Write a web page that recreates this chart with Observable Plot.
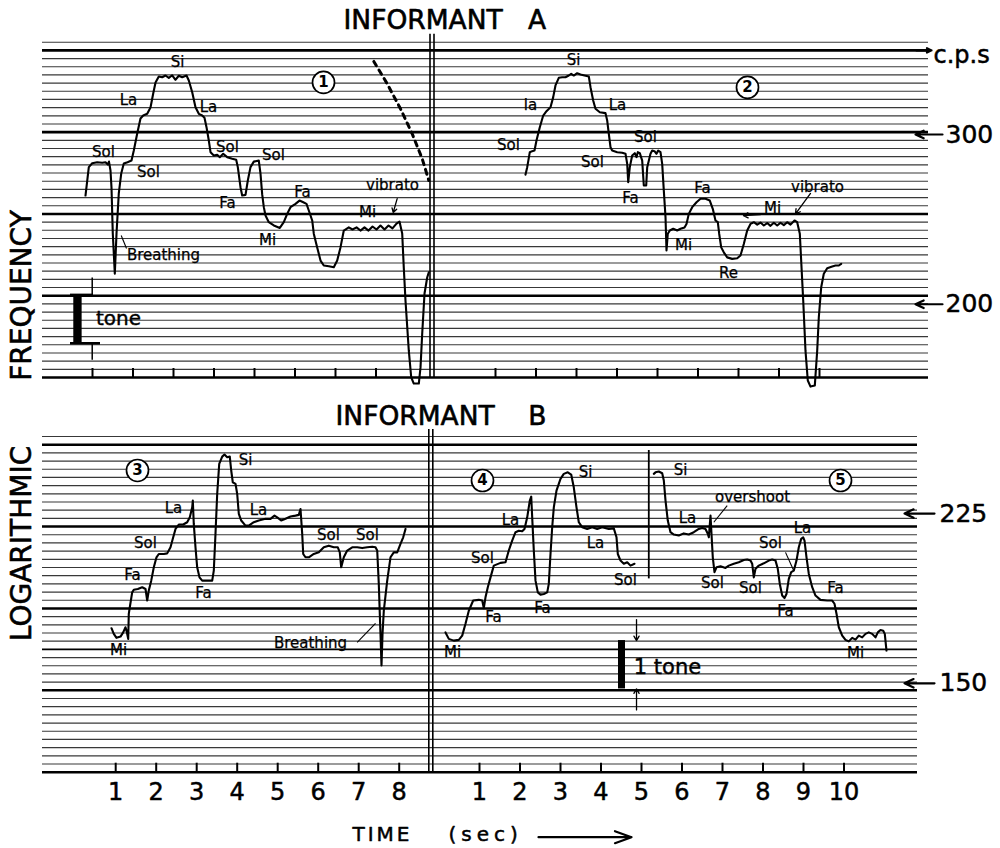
<!DOCTYPE html>
<html><head><meta charset="utf-8">
<script src="https://cdn.jsdelivr.net/npm/d3@7"></script>
<script src="https://cdn.jsdelivr.net/npm/@observablehq/plot@0.6"></script>
<style>
html,body{margin:0;padding:0;background:#fff;}
#chart{width:1000px;height:848px;overflow:hidden;}
#chart svg{display:block;}
</style></head><body><div id="chart"></div>
<script>
// ---------------- DATA ----------------
// pitch traces: [time (s, within its half), frequency (c.p.s)]
const traceA1 = [[0.827,259.3],[0.909,277.5],[0.993,280.1],[1.116,280.8],[1.240,280.4],[1.321,280.8],[1.378,279.2],[1.407,281.2],[1.444,275.3],[1.469,264.3],[1.501,236.8],[1.551,215.2],[1.593,236.8],[1.649,260.6],[1.709,273.3],[1.773,279.9],[1.864,280.8],[1.963,281.9],[2.020,288.7],[2.104,300.7],[2.185,311.7],[2.252,313.9],[2.351,315.2],[2.432,320.0],[2.499,330.9],[2.556,339.7],[2.637,344.6],[2.721,344.0],[2.802,345.4],[2.884,343.5],[2.968,345.6],[3.049,341.9],[3.131,345.2],[3.215,344.0],[3.321,345.4],[3.378,341.3],[3.462,331.9],[3.543,320.2],[3.625,315.2],[3.709,313.9],[3.765,312.2],[3.815,305.3],[3.872,295.7],[3.914,287.6],[3.995,285.3],[4.079,285.8],[4.143,284.2],[4.227,286.5],[4.326,284.2],[4.449,283.1],[4.548,282.4],[4.588,277.5],[4.654,264.5],[4.696,259.3],[4.778,259.7],[4.835,268.8],[4.901,277.5],[4.983,281.2],[5.106,281.9],[5.148,273.2],[5.190,260.0],[5.230,252.2],[5.272,247.2],[5.353,243.3],[5.477,241.4],[5.625,240.0],[5.723,243.3],[5.807,248.2],[5.889,252.2],[6.012,254.2],[6.111,256.2],[6.217,255.0],[6.284,254.2],[6.341,250.2],[6.425,244.3],[6.464,236.7],[6.548,229.1],[6.630,222.0],[6.711,219.4],[6.835,219.0],[6.958,218.5],[7.042,222.0],[7.123,229.1],[7.205,238.5],[7.328,240.3],[7.420,239.1],[7.519,240.3],[7.617,238.5],[7.716,240.3],[7.815,238.5],[7.914,240.8],[8.012,239.1],[8.111,241.4],[8.210,239.1],[8.309,241.4],[8.407,239.7],[8.506,242.5],[8.580,243.7],[8.647,236.8],[8.686,218.3],[8.728,201.8],[8.810,179.0],[8.869,168.0],[8.933,165.5],[9.057,165.5],[9.099,172.0],[9.141,186.5],[9.198,205.2],[9.264,213.2],[9.304,215.9]];
const traceA2 = [[1.741,272.6],[1.783,277.5],[1.847,287.6],[1.906,288.3],[1.963,288.7],[2.012,295.7],[2.094,305.3],[2.178,313.9],[2.259,317.2],[2.358,320.2],[2.425,328.0],[2.481,337.3],[2.563,343.5],[2.647,344.0],[2.728,344.0],[2.810,345.4],[2.869,346.8],[2.933,345.4],[3.017,347.3],[3.099,346.3],[3.198,345.4],[3.304,344.6],[3.346,335.9],[3.412,325.4],[3.469,319.0],[3.575,316.4],[3.716,315.7],[3.758,310.2],[3.798,300.5],[3.840,291.0],[3.881,288.7],[4.005,287.6],[4.128,287.2],[4.210,286.5],[4.252,279.7],[4.277,267.7],[4.316,277.5],[4.375,285.3],[4.440,286.9],[4.481,284.2],[4.514,287.6],[4.563,286.9],[4.622,281.9],[4.662,265.6],[4.721,265.6],[4.746,277.5],[4.827,286.5],[4.869,288.7],[4.926,288.3],[4.975,286.5],[5.017,288.7],[5.074,287.6],[5.116,279.7],[5.156,262.4],[5.198,246.2],[5.222,227.4],[5.254,236.7],[5.304,238.5],[5.388,239.5],[5.486,238.5],[5.568,239.5],[5.667,240.3],[5.716,242.3],[5.773,248.2],[5.857,252.2],[5.963,255.2],[6.062,257.3],[6.185,257.3],[6.291,256.2],[6.365,251.2],[6.432,244.3],[6.489,243.3],[6.523,236.7],[6.573,229.1],[6.637,226.4],[6.721,223.7],[6.844,222.9],[6.968,223.2],[7.049,224.7],[7.131,231.0],[7.215,238.5],[7.296,242.3],[7.378,243.3],[7.462,241.9],[7.543,243.1],[7.625,241.4],[7.709,242.8],[7.790,241.2],[7.872,243.0],[7.956,241.4],[8.037,243.0],[8.119,241.6],[8.202,243.3],[8.284,241.9],[8.383,244.3],[8.449,243.3],[8.514,236.7],[8.556,218.5],[8.598,201.8],[8.654,179.0],[8.711,166.7],[8.778,164.3],[8.884,164.7],[8.943,179.0],[8.983,193.9],[9.042,208.3],[9.106,215.1],[9.190,218.0],[9.314,218.9],[9.395,219.4],[9.477,219.4],[9.536,220.3]];
const traceB3 = [[0.896,171.1],[0.953,168.8],[1.020,167.2],[1.119,167.7],[1.185,169.4],[1.242,171.5],[1.267,170.1],[1.309,166.8],[1.323,177.1],[1.348,179.9],[1.407,186.4],[1.447,187.6],[1.546,187.9],[1.654,188.7],[1.736,187.9],[1.778,182.8],[1.817,187.2],[1.877,191.7],[1.941,197.9],[2.007,202.7],[2.064,204.3],[2.188,204.3],[2.272,204.6],[2.353,207.6],[2.420,212.6],[2.477,216.9],[2.558,219.2],[2.667,219.2],[2.765,220.4],[2.830,223.0],[2.889,228.4],[2.904,232.1],[2.928,219.5],[2.970,207.6],[3.012,197.9],[3.069,193.2],[3.136,191.7],[3.259,191.7],[3.383,191.7],[3.422,196.3],[3.464,214.4],[3.506,235.8],[3.556,253.4],[3.630,257.8],[3.686,259.1],[3.753,257.4],[3.817,257.8],[3.852,249.4],[3.891,242.5],[3.958,241.6],[4.000,235.8],[4.040,224.8],[4.099,221.3],[4.205,218.6],[4.286,218.6],[4.410,220.4],[4.533,221.3],[4.699,222.2],[4.822,222.2],[4.921,223.9],[4.988,223.0],[5.086,221.3],[5.193,222.2],[5.316,223.4],[5.440,223.9],[5.521,224.3],[5.563,227.5],[5.605,214.4],[5.630,204.3],[5.686,202.7],[5.768,202.7],[5.891,204.3],[6.015,205.1],[6.138,207.6],[6.262,208.4],[6.385,207.6],[6.484,207.6],[6.533,205.1],[6.568,197.9],[6.632,202.7],[6.716,206.0],[6.840,207.6],[6.963,207.6],[7.086,207.2],[7.210,207.6],[7.333,207.9],[7.415,207.6],[7.457,206.0],[7.496,190.2],[7.538,168.8],[7.563,156.5],[7.588,168.8],[7.620,178.4],[7.704,191.7],[7.785,202.7],[7.867,205.1],[7.951,205.1],[8.032,209.3],[8.099,212.6],[8.156,216.9]];
const traceB4 = [[0.160,169.4],[0.242,166.8],[0.365,166.1],[0.489,166.4],[0.573,168.1],[0.654,172.9],[0.736,178.4],[0.844,182.8],[0.983,183.1],[1.067,182.8],[1.106,179.5],[1.148,184.2],[1.205,188.7],[1.272,193.2],[1.353,198.7],[1.519,200.0],[1.642,200.3],[1.723,206.0],[1.807,210.9],[1.889,215.2],[1.970,216.0],[2.054,215.7],[2.111,216.9],[2.178,223.0],[2.242,232.1],[2.277,234.3],[2.301,223.0],[2.341,206.0],[2.383,191.7],[2.440,186.4],[2.506,185.4],[2.588,185.7],[2.672,186.4],[2.711,190.2],[2.753,204.3],[2.795,217.8],[2.835,228.4],[2.901,237.7],[3.000,244.5],[3.081,247.4],[3.180,248.3],[3.264,247.0],[3.328,239.6],[3.395,228.4],[3.452,220.4],[3.536,217.8],[3.659,216.9],[3.783,217.8],[3.906,216.9],[4.030,217.8],[4.193,216.9],[4.316,217.2],[4.383,212.6],[4.415,204.3],[4.481,201.1],[4.563,199.6],[4.647,200.3],[4.728,198.7],[4.827,199.6]];
const traceB5 = [[5.304,247.4],[5.346,248.3],[5.427,248.8],[5.511,247.8],[5.551,243.5],[5.593,232.1],[5.649,221.3],[5.716,215.2],[5.798,214.0],[5.921,213.5],[6.044,214.6],[6.168,214.0],[6.291,215.2],[6.415,216.9],[6.499,217.4],[6.580,216.9],[6.637,214.4],[6.662,212.6],[6.704,223.9],[6.728,214.4],[6.760,202.7],[6.802,195.6],[6.852,197.9],[6.951,198.4],[7.074,197.6],[7.156,198.7],[7.279,199.6],[7.402,200.3],[7.526,201.4],[7.610,201.6],[7.691,201.1],[7.733,199.6],[7.773,193.2],[7.815,197.2],[7.896,198.7],[8.020,199.8],[8.143,201.1],[8.227,201.6],[8.309,201.1],[8.365,197.2],[8.415,190.2],[8.474,185.0],[8.531,183.9],[8.580,185.7],[8.637,192.5],[8.696,195.6],[8.760,196.3],[8.827,201.1],[8.884,207.6],[8.943,211.8],[8.993,212.6],[9.025,210.9],[9.074,202.7],[9.131,194.8],[9.215,188.7],[9.296,185.0],[9.420,183.1],[9.585,182.8],[9.709,182.8],[9.765,181.4],[9.815,177.1],[9.872,171.5],[9.956,168.1],[10.037,166.4],[10.119,165.8],[10.202,167.2],[10.284,166.5],[10.365,168.1],[10.449,167.4],[10.531,168.8],[10.612,169.4],[10.696,168.8],[10.778,167.4],[10.835,169.4],[10.901,170.4],[10.968,170.1],[11.007,168.8],[11.049,162.2]];
// dashed strobe arc (recording 1)
const arcA1 = [[7.946,357.2],[8.277,338.6],[8.605,319.0],[8.894,300.5],[9.141,283.1],[9.304,268.8]];
// separator stroke between recordings 4 and 5 (right half of B)
const sepB = [{t:5.180, lo:192.5, hi:261.6}];

// note labels: h = half (0 left, 1 right)
const labelsA = [
 {h:0,t:3.100,hz:356.3,text:"Si"},{h:0,t:1.889,hz:325.4,text:"La"},{h:0,t:3.864,hz:320.0,text:"La"},
 {h:0,t:1.272,hz:287.4,text:"Sol"},{h:0,t:2.383,hz:274.0,text:"Sol"},{h:0,t:4.333,hz:290.8,text:"Sol"},
 {h:0,t:5.469,hz:285.3,text:"Sol"},{h:0,t:4.333,hz:254.4,text:"Fa"},{h:0,t:6.185,hz:261.2,text:"Fa"},
 {h:0,t:5.321,hz:232.9,text:"Mi"},{h:0,t:7.790,hz:249.0,text:"Mi"},{h:0,t:8.407,hz:265.6,text:"vibrato"},
 {h:0,t:2.753,hz:224.7,text:"Breathing"},
 {h:1,t:2.926,hz:358.0,text:"Si"},{h:1,t:1.864,hz:321.5,text:"la"},{h:1,t:4.012,hz:321.5,text:"La"},
 {h:1,t:1.321,hz:292.2,text:"Sol"},{h:1,t:3.395,hz:280.6,text:"Sol"},{h:1,t:4.704,hz:297.9,text:"Sol"},
 {h:1,t:4.333,hz:257.4,text:"Fa"},{h:1,t:6.111,hz:263.7,text:"Fa"},{h:1,t:5.642,hz:230.1,text:"Mi"},
 {h:1,t:7.840,hz:251.4,text:"Mi"},{h:1,t:6.753,hz:215.2,text:"Re"},{h:1,t:8.951,hz:264.3,text:"vibrato"}
];
const labelsB = [
 {h:0,t:4.205,hz:255.4,text:"Si"},{h:0,t:2.427,hz:227.7,text:"La"},{h:0,t:4.526,hz:226.6,text:"La"},
 {h:0,t:1.736,hz:209.4,text:"Sol"},{h:0,t:6.254,hz:213.5,text:"Sol"},{h:0,t:7.217,hz:213.5,text:"Sol"},
 {h:0,t:1.415,hz:194.0,text:"Fa"},{h:0,t:3.168,hz:185.9,text:"Fa"},{h:0,t:1.069,hz:162.2,text:"Mi"},
 {h:0,t:5.810,hz:164.9,text:"Breathing"},
 {h:1,t:0.333,hz:161.4,text:"Mi"},{h:1,t:1.074,hz:202.5,text:"Sol"},{h:1,t:1.346,hz:175.5,text:"Fa"},
 {h:1,t:1.765,hz:221.3,text:"La"},{h:1,t:2.556,hz:179.7,text:"Fa"},{h:1,t:3.617,hz:248.2,text:"Si"},
 {h:1,t:3.864,hz:209.4,text:"La"},{h:1,t:4.605,hz:191.7,text:"Sol"},{h:1,t:5.963,hz:249.4,text:"Si"},
 {h:1,t:7.741,hz:233.8,text:"overshoot"},{h:1,t:6.136,hz:222.3,text:"La"},{h:1,t:6.753,hz:190.4,text:"Sol"},
 {h:1,t:7.691,hz:188.1,text:"Sol"},{h:1,t:8.185,hz:209.4,text:"Sol"},{h:1,t:8.975,hz:217.1,text:"La"},
 {h:1,t:8.556,hz:178.4,text:"Fa"},{h:1,t:9.790,hz:188.1,text:"Fa"},{h:1,t:10.284,hz:161.0,text:"Mi"}
];
const circlesA = [{h:0,t:6.704,hz:339.7,n:"1"},{h:1,t:7.222,hz:335.7,n:"2"}];
const circlesB = [{h:0,t:1.538,hz:249.4,n:"3"},{h:1,t:1.074,hz:243.5,n:"4"},{h:1,t:9.914,hz:243.5,n:"5"}];
// pointer strokes
const pointersA = [{h:0,t1:1.709,hz1:235.7,t2:1.840,hz2:228.5}];
const arrowsA = [{h:0,t1:8.523,hz1:257.4,t2:8.425,hz2:249.0},{h:1,t1:8.778,hz1:260.6,t2:8.407,hz2:248.2},{h:1,t1:7.543,hz1:247.8,t2:7.123,hz2:247.2}];
const pointersB = [{h:0,t1:6.963,hz1:165.4,t2:7.415,hz2:173.1},{h:1,t1:7.116,hz1:229.3,t2:6.785,hz2:220.4},{h:1,t1:8.556,hz1:205.1,t2:8.760,hz2:196.3}];
// one-tone reference bars (lower edge in c.p.s; a tone = ratio 2^(1/6))
const toneA = [{h:0,t1:0.538,t2:0.744,lo:182.2,label:"tone",lt:1.642,lhz:193.3}];
const toneB = [{h:1,t1:4.432,t2:4.605,lo:148.0,label:"1 tone",lt:5.642,lhz:155.7}];
// axis ticks
const ticksALeft = [1,2,3,4,5,6,7,8];
const ticksARight = [1,2,3,4,5,6,7,8,9];
const ticksBLeft = [1,2,3,4,5,6,7,8];
const ticksBRight = [1,2,3,4,5,6,7,8,9,10];
const cpsA = [300,200];
const cpsB = [225,150];

// ---------------- LAYOUT ----------------
const FONT = "DejaVu Sans";
const PXS = 40.5; // px per second
const LA = {h:400, mt:41.7, mb:23, ml:42, mr:72, x0:51.5, x0R:454.5, lo:167.9, hi:374.0, thick:[1,11,21,31,41], med:[]};
const LB = {h:448, mt:36, mb:76.3, ml:42, mr:83, x0:74.7, x0R:438.5, lo:121.3, hi:270.5, thick:[1,11,21,31,41], med:[26]};
const toT = (L, px) => (px - L.x0) / PXS;
const TONE = Math.pow(2, 1/6);
const up = (f, px) => f * Math.pow(2, px / 290);

function grid(L) {
  return d3.range(42).map(i => ({f: L.hi * Math.pow(L.lo / L.hi, i / 41),
    w: L.thick.includes(i) ? 2.6 : L.med.includes(i) ? 1.8 : 1.15}));
}

function panel(L, o) {
  const off = toT(L, L.x0R);
  const X = d => d.t + (d.h ? off : 0);
  const g = grid(L);
  const xR = 1000 - L.mr;
  const marks = [
    Plot.ruleY(g.filter(d => d.w < 1.5), {y: "f", x1: toT(L, L.ml), x2: toT(L, xR), stroke: "#383838", strokeWidth: "w"}),
    Plot.ruleY(g.filter(d => d.w >= 1.5), {y: "f", x1: toT(L, L.ml), x2: toT(L, xR), stroke: "#000", strokeWidth: "w"}),
    // time ticks
    Plot.ruleX(o.ticksL, {x: d => d, y1: L.lo, y2: up(L.lo, 9), stroke: "#000", strokeWidth: 2}),
    Plot.ruleX(o.ticksR, {x: d => d + off, y1: L.lo, y2: up(L.lo, 9), stroke: "#000", strokeWidth: 2}),
    // double divider
    Plot.ruleX([toT(L, o.div), toT(L, o.div + 4)], {x: d => d, y1: L.lo, y2: up(L.hi, o.divTop), stroke: "#000", strokeWidth: 1.6}),
    // tone bar
    Plot.rect(o.tone, {x1: d => d.t1 + (d.h ? off : 0), x2: d => d.t2 + (d.h ? off : 0), y1: "lo", y2: d => d.lo * TONE, fill: "#000"}),
    Plot.text(o.tone, {x: d => d.lt + (d.h ? off : 0), y: "lhz", text: "label", fontSize: o.toneFont, fill: "#000", stroke: "#000", strokeWidth: 0.4}),
    // traces
    ...o.traces.map(tr => Plot.line(tr.data, {x: d => d[0] + (tr.h ? off : 0), y: d => d[1], stroke: "#000", strokeWidth: 2.1, strokeLinejoin: "round"})),
    // labels
    Plot.text(o.labels, {x: X, y: "hz", text: "text", fontSize: 15, fill: "#000", stroke: "#000", strokeWidth: 0.25}),
    Plot.link(o.pointers, {x1: d => d.t1 + (d.h ? off : 0), x2: d => d.t2 + (d.h ? off : 0), y1: "hz1", y2: "hz2", stroke: "#000", strokeWidth: 1.1}),
    Plot.dot(o.circles, {x: X, y: "hz", r: 11, stroke: "#000", strokeWidth: 1.7, fill: "#fff"}),
    Plot.text(o.circles, {x: X, y: "hz", text: "n", fontSize: 15, fontWeight: "bold", fill: "#000"}),
    // right-hand c.p.s. labels
    Plot.arrow(o.cps, {x1: toT(L, o.arrowTail), x2: toT(L, o.arrowTip), y1: d => d, y2: d => d, stroke: "#000", strokeWidth: 2.2, headLength: 9, headAngle: 50}),
    Plot.text(o.cps, {x: toT(L, o.numX), y: d => d, text: d => String(d), textAnchor: "start", fontSize: 25, fill: "#000", stroke: "#000", strokeWidth: 0.5}),
    // title and vertical label
    Plot.text([o.title], {frameAnchor: "top-left", lineAnchor: "middle", dx: o.titleX - L.ml, dy: o.titleDy, textAnchor: "start", fontSize: 26.5, fill: "#000", stroke: "#000", strokeWidth: 0.6}),
    Plot.text([o.ylab], {frameAnchor: "left", y: o.ylabHz, dx: -20, rotate: -90, textAnchor: "middle", lineAnchor: "middle", fontSize: 28, fill: "#000", stroke: "#000", strokeWidth: 0.6})
  ];
  return {marks, off, g, X};
}

// ---------------- PANEL A ----------------
const pa = panel(LA, {
  ticksL: ticksALeft, ticksR: ticksARight, div: 429.5, divTop: 8, tone: toneA, toneFont: 20,
  traces: [{data: traceA1, h: 0}, {data: traceA2, h: 1}], labels: labelsA, pointers: pointersA, circles: circlesA,
  cps: cpsA, arrowTail: 942, arrowTip: 915, numX: 945,
  title: "INFORMANT\u00a0\u00a0\u00a0A", titleX: 343, titleDy: -21.5, ylab: "FREQUENCY", ylabHz: 204.2
});
const offA = pa.off;
const svgA = Plot.plot({
  width: 1000, height: LA.h, marginTop: LA.mt, marginBottom: LA.mb, marginLeft: LA.ml, marginRight: LA.mr,
  x: {domain: [toT(LA, LA.ml), toT(LA, 1000 - LA.mr)], axis: null},
  y: {type: "log", domain: [LA.lo, LA.hi], axis: null},
  style: {fontFamily: FONT, background: "#fff", color: "#000", overflow: "visible"},
  marks: [
    ...pa.marks,
    Plot.line(arcA1, {x: d => d[0], y: d => d[1], stroke: "#000", strokeWidth: 3, strokeDasharray: "5,5"}),
    Plot.arrow(arrowsA, {x1: d => d.t1 + (d.h ? offA : 0), x2: d => d.t2 + (d.h ? offA : 0), y1: "hz1", y2: "hz2", stroke: "#000", strokeWidth: 1.3, headLength: 6}),
    // tone bar serifs
    Plot.ruleY(toneA, {y: "lo", x1: 0.457, x2: 1.198, stroke: "#000", strokeWidth: 2.6}),
    Plot.ruleY(toneA, {y: d => d.lo * TONE, x1: 0.457, x2: 1.025, stroke: "#000", strokeWidth: 2.6}),
    Plot.ruleX(toneA, {x: 0.993, y1: d => d.lo * TONE, y2: d => up(d.lo * TONE, 17), stroke: "#000", strokeWidth: 1.5}),
    Plot.ruleX(toneA, {x: 0.993, y1: "lo", y2: d => up(d.lo, -17), stroke: "#000", strokeWidth: 1.5}),
    // c.p.s marker on first thick line
    Plot.arrow([pa.g[1]], {x1: toT(LA, 916), x2: toT(LA, 931), y1: "f", y2: "f", stroke: "#000", strokeWidth: 2.2, headLength: 8, headAngle: 50}),
    Plot.text([pa.g[1]], {x: toT(LA, 933), y: "f", dy: 5, text: () => "c.p.s", textAnchor: "start", fontSize: 24, fill: "#000", stroke: "#000", strokeWidth: 0.5})
  ]
});

// ---------------- PANEL B ----------------
const pb = panel(LB, {
  ticksL: ticksBLeft, ticksR: ticksBRight, div: 428.3, divTop: 7, tone: toneB, toneFont: 21,
  traces: [{data: traceB3, h: 0}, {data: traceB4, h: 1}, {data: traceB5, h: 1}], labels: labelsB, pointers: pointersB, circles: circlesB,
  cps: cpsB, arrowTail: 934, arrowTip: 904, numX: 939,
  title: "INFORMANT\u00a0\u00a0\u00a0\u00a0B", titleX: 335, titleDy: -20, ylab: "LOGARITHMIC", ylabHz: 209.5
});
const offB = pb.off;
const svgB = Plot.plot({
  width: 1000, height: LB.h, marginTop: LB.mt, marginBottom: LB.mb, marginLeft: LB.ml, marginRight: LB.mr,
  x: {domain: [toT(LB, LB.ml), toT(LB, 1000 - LB.mr)], axis: null},
  y: {type: "log", domain: [LB.lo, LB.hi], axis: null},
  style: {fontFamily: FONT, background: "#fff", color: "#000", overflow: "visible"},
  marks: [
    ...pb.marks,
    Plot.ruleX(sepB, {x: d => d.t + offB, y1: "lo", y2: "hi", stroke: "#000", strokeWidth: 1.8}),
    // arrows marking the one-tone bar
    Plot.arrow(toneB, {x1: d => 4.877 + offB, x2: d => 4.877 + offB, y1: d => up(d.lo * TONE, 21), y2: d => d.lo * TONE, stroke: "#000", strokeWidth: 1.3, headLength: 6}),
    Plot.arrow(toneB, {x1: d => 4.877 + offB, x2: d => 4.877 + offB, y1: d => up(d.lo, -21), y2: "lo", stroke: "#000", strokeWidth: 1.3, headLength: 6}),
    // time tick labels
    Plot.text(ticksBLeft, {x: d => d, text: d => String(d), frameAnchor: "bottom", lineAnchor: "middle", dy: 20, fontSize: 24, fill: "#000", stroke: "#000", strokeWidth: 0.5}),
    Plot.text(ticksBRight, {x: d => d + offB, text: d => String(d), frameAnchor: "bottom", lineAnchor: "middle", dy: 20, fontSize: 24, fill: "#000", stroke: "#000", strokeWidth: 0.5}),
    Plot.text(["TIME"], {x: toT(LB, 352), frameAnchor: "bottom", lineAnchor: "middle", dy: 62, textAnchor: "start", fontSize: 20, fill: "#000", stroke: "#000", strokeWidth: 0.5}),
    Plot.text(["(sec)"], {x: toT(LB, 448), frameAnchor: "bottom", lineAnchor: "middle", dy: 62, textAnchor: "start", fontSize: 20, fill: "#000", stroke: "#000", strokeWidth: 0.5}),
    Plot.arrow([0], {x1: toT(LB, 538), x2: toT(LB, 631), y1: LB.lo, y2: LB.lo, dy: 65, stroke: "#000", strokeWidth: 2.2, headLength: 12, headAngle: 40})
  ]
});

const root = document.getElementById("chart");
root.appendChild(svgA);
root.appendChild(svgB);
d3.selectAll("#chart text").filter(function(){ return this.textContent === "TIME"; }).attr("letter-spacing", 3);
d3.selectAll("#chart text").filter(function(){ return this.textContent === "(sec)"; }).attr("letter-spacing", 5);
</script></body></html>
